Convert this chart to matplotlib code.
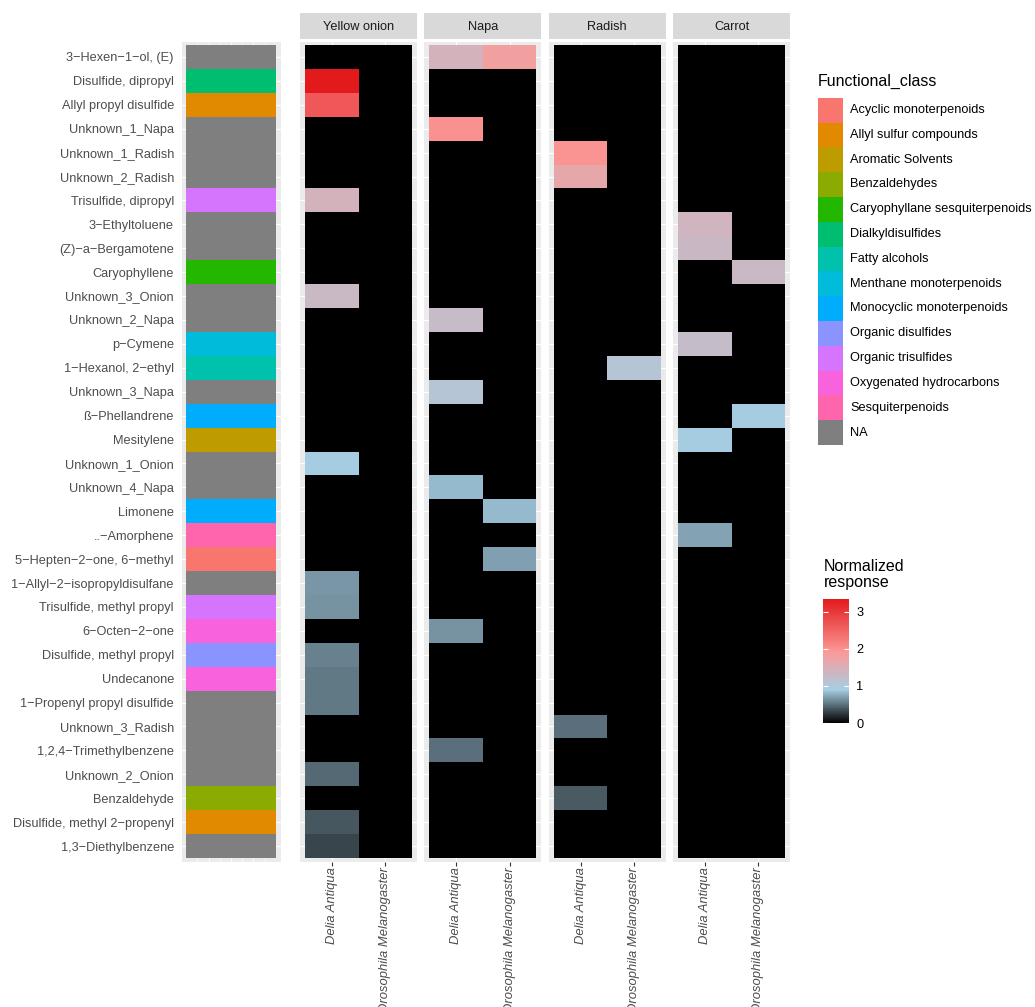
import numpy as np
import matplotlib
matplotlib.use("Agg")
import matplotlib.pyplot as plt
from matplotlib.colors import LinearSegmentedColormap, Normalize, ListedColormap
from matplotlib.cm import ScalarMappable
from matplotlib.patches import Rectangle

plt.rcParams['font.family'] = ['Liberation Sans', 'DejaVu Sans']

# ---------------- data ----------------
compounds = [
    "3−Hexen−1−ol, (E)", "Disulfide, dipropyl", "Allyl propyl disulfide",
    "Unknown_1_Napa", "Unknown_1_Radish", "Unknown_2_Radish",
    "Trisulfide, dipropyl", "3−Ethyltoluene", "(Z)−a−Bergamotene",
    "Caryophyllene", "Unknown_3_Onion", "Unknown_2_Napa", "p−Cymene",
    "1−Hexanol, 2−ethyl", "Unknown_3_Napa", "ß−Phellandrene", "Mesitylene",
    "Unknown_1_Onion", "Unknown_4_Napa", "Limonene", "..−Amorphene",
    "5−Hepten−2−one, 6−methyl", "1−Allyl−2−isopropyldisulfane",
    "Trisulfide, methyl propyl", "6−Octen−2−one", "Disulfide, methyl propyl",
    "Undecanone", "1−Propenyl propyl disulfide", "Unknown_3_Radish",
    "1,2,4−Trimethylbenzene", "Unknown_2_Onion", "Benzaldehyde",
    "Disulfide, methyl 2−propenyl", "1,3−Diethylbenzene",
]

functional_class = [
    "NA", "Dialkyldisulfides", "Allyl sulfur compounds",
    "NA", "NA", "NA",
    "Organic trisulfides", "NA", "NA",
    "Caryophyllane sesquiterpenoids", "NA", "NA", "Menthane monoterpenoids",
    "Fatty alcohols", "NA", "Monocyclic monoterpenoids", "Aromatic Solvents",
    "NA", "NA", "Monocyclic monoterpenoids", "Sesquiterpenoids",
    "Acyclic monoterpenoids", "NA",
    "Organic trisulfides", "Oxygenated hydrocarbons", "Organic disulfides",
    "Oxygenated hydrocarbons", "NA", "NA",
    "NA", "NA", "Benzaldehydes",
    "Allyl sulfur compounds", "NA",
]

class_levels = [
    "Acyclic monoterpenoids", "Allyl sulfur compounds", "Aromatic Solvents",
    "Benzaldehydes", "Caryophyllane sesquiterpenoids", "Dialkyldisulfides",
    "Fatty alcohols", "Menthane monoterpenoids", "Monocyclic monoterpenoids",
    "Organic disulfides", "Organic trisulfides", "Oxygenated hydrocarbons",
    "Sesquiterpenoids", "NA",
]
class_colors = [
    "#F8766D", "#E18A00", "#BE9C00", "#8CAB00", "#24B700", "#00BE70",
    "#00C1AB", "#00BBDA", "#00ACFC", "#8B93FF", "#D575FE", "#F962DD",
    "#FF65AC", "#7F7F7F",
]

facets = ["Yellow onion", "Napa", "Radish", "Carrot"]
species = ["Delia Antiqua", "Drosophila Melanogaster"]

onion_delia = [0, 3.35, 2.65, 0, 0, 0, 1.45, 0, 0, 0,
               1.3, 0, 0, 0, 0, 0, 0, 0.9, 0, 0,
               0, 0, 0.66, 0.65, 0, 0.57, 0.53, 0.53, 0, 0,
               0.47, 0, 0.385, 0.31]
onion_dros = [0, 0, 0, 0, 0, 0, 0, 0, 0, 0,
              0, 0, 0, 0, 0, 0, 0, 0, 0, 0,
              0, 0, 0, 0, 0, 0, 0, 0, 0, 0,
              0, 0, 0, 0]
napa_delia = [1.45, 0, 0, 2.0, 0, 0, 0, 0, 0, 0,
              0, 1.27, 0, 0, 1.08, 0, 0, 0, 0.82, 0,
              0, 0, 0, 0, 0.65, 0, 0, 0, 0, 0.49,
              0, 0, 0, 0]
napa_dros = [1.8, 0, 0, 0, 0, 0, 0, 0, 0, 0,
             0, 0, 0, 0, 0, 0, 0, 0, 0, 0.82,
             0, 0.70, 0, 0, 0, 0, 0, 0, 0, 0,
             0, 0, 0, 0]
radish_delia = [0, 0, 0, 0, 1.97, 1.65, 0, 0, 0, 0,
                0, 0, 0, 0, 0, 0, 0, 0, 0, 0,
                0, 0, 0, 0, 0, 0, 0, 0, 0.49, 0,
                0, 0.40, 0, 0]
radish_dros = [0, 0, 0, 0, 0, 0, 0, 0, 0, 0,
               0, 0, 0, 1.08, 0, 0, 0, 0, 0, 0,
               0, 0, 0, 0, 0, 0, 0, 0, 0, 0,
               0, 0, 0, 0]
carrot_delia = [0, 0, 0, 0, 0, 0, 0, 1.4, 1.32, 0,
                0, 0, 1.25, 0, 0, 0, 0.9, 0, 0, 0,
                0.71, 0, 0, 0, 0, 0, 0, 0, 0, 0,
                0, 0, 0, 0]
carrot_dros = [0, 0, 0, 0, 0, 0, 0, 0, 0, 1.3,
               0, 0, 0, 0, 0, 0.9, 0, 0, 0, 0,
               0, 0, 0, 0, 0, 0, 0, 0, 0, 0,
               0, 0, 0, 0]

facet_values = [
    (onion_delia, onion_dros),
    (napa_delia, napa_dros),
    (radish_delia, radish_dros),
    (carrot_delia, carrot_dros),
]

legend_ticks = [0, 1, 2, 3]
vmax = 3.35

# ---------------- styling ----------------
W, H = 1035, 1007
fig = plt.figure(figsize=(W / 100, H / 100), dpi=100)


def rect(x0, y0, x1, y1):
    return [x0 / W, 1 - y1 / H, (x1 - x0) / W, (y1 - y0) / H]


cmap = LinearSegmentedColormap.from_list(
    "resp",
    [(0.0, "#000000"), (0.9 / vmax, "#A6CEE3"), (1.9 / vmax, "#FB9A99"), (1.0, "#E31A1C")],
)
norm = Normalize(0, vmax)

PANEL_BG = "#EBEBEB"
AXIS_TXT = "#4D4D4D"
FS = 9.2
n = len(compounds)
y_top, y_bot = 41.7, 861.6
row_px = (858 - 45) / n
ylim = (n - 0.5 + (y_bot - 858) / row_px, -0.5 - (45 - y_top) / row_px)


def style_panel(ax):
    ax.set_facecolor(PANEL_BG)
    for s in ax.spines.values():
        s.set_visible(False)
    ax.set_axisbelow(True)


# left strip with functional classes
ax_s = fig.add_axes(rect(182, y_top, 281, y_bot))
style_panel(ax_s)
class_idx = np.array([class_levels.index(c) for c in functional_class]).reshape(-1, 1)
ax_s.pcolormesh([0, 1], np.arange(n + 1) - 0.5, class_idx,
                cmap=ListedColormap(class_colors), vmin=-0.5,
                vmax=len(class_levels) - 0.5, antialiased=False, linewidth=0)
ax_s.set_xlim(-4 / 90, 1 + 5 / 90)
ax_s.set_ylim(*ylim)
for xv in np.linspace(0, 1, 9)[1:-1]:
    ax_s.axvline(xv, color="white", lw=0.6 if xv in (0.25, 0.5, 0.75) else 0.4, zorder=0)
for yv in range(n):
    ax_s.axhline(yv, color="white", lw=0.8, zorder=0)
ax_s.set_yticks(range(n))
ax_s.set_yticklabels(compounds, fontsize=FS, color=AXIS_TXT)
ax_s.tick_params(axis="y", length=0, pad=5.8)
ax_s.set_xticks([])

# heatmap facets
for i, (fname, vals) in enumerate(zip(facets, facet_values)):
    x0 = 300 + i * 124.4
    ax = fig.add_axes(rect(x0, y_top, x0 + 117, y_bot))
    style_panel(ax)
    data = np.column_stack([np.array(vals[0]), np.array(vals[1])])
    ax.pcolormesh([-0.5, 0.5, 1.5], np.arange(n + 1) - 0.5, data,
                  cmap=cmap, norm=norm, antialiased=False, linewidth=0)
    m = 5 / 53.5
    ax.set_xlim(-0.5 - m, 1.5 + m)
    ax.set_ylim(*ylim)
    for yv in range(n):
        ax.axhline(yv, color="white", lw=0.8, zorder=0)
    for xv in (0, 1):
        ax.axvline(xv, color="white", lw=0.8, zorder=0)
    ax.set_yticks([])
    ax.set_xticks([0, 1])
    ax.set_xticklabels(species, rotation=90, fontsize=9.4, color=AXIS_TXT,
                       fontstyle="italic", va="top", ha="center")
    ax.tick_params(axis="x", length=2.75, width=0.8, color="#333333", pad=1.5)
    # strip header
    ax_h = fig.add_axes(rect(x0, 13, x0 + 117, 39))
    ax_h.set_facecolor("#D9D9D9")
    for s in ax_h.spines.values():
        s.set_visible(False)
    ax_h.set_xticks([])
    ax_h.set_yticks([])
    ax_h.text(0.5, 0.47, fname, ha="center", va="center", fontsize=FS,
              color="#1A1A1A", transform=ax_h.transAxes)

# functional class legend
ax_l = fig.add_axes([0, 0, 1, 1], facecolor="none")
ax_l.set_xlim(0, W)
ax_l.set_ylim(H, 0)
ax_l.axis("off")
ax_l.text(817.5, 81.5, "Functional_class", fontsize=11.5, va="center", ha="left", color="black")
key_h = 24.8
for k, (lab, col) in enumerate(zip(class_levels, class_colors)):
    yk = 97.7 + k * key_h
    ax_l.add_patch(Rectangle((818, yk), 25, key_h, facecolor=col, edgecolor="none"))
    ax_l.text(850, yk + key_h / 2, lab, fontsize=FS, va="center", ha="left", color="black")

ax_l.text(824, 559, "Normalized\nresponse", fontsize=11.5, va="top", ha="left",
          color="black", linespacing=1.05)

# colorbar
cax = fig.add_axes(rect(822.7, 599, 849.3, 723))
cb = fig.colorbar(ScalarMappable(norm=norm, cmap=cmap), cax=cax)
cb.outline.set_visible(False)
cb.set_ticks(legend_ticks)
cax.yaxis.set_ticks_position("both")
cax.tick_params(axis="y", direction="in", length=3.6, width=0.8, color="white",
                labelleft=False, labelright=True, labelsize=FS, labelcolor="black", pad=5)

fig.savefig("out.png", dpi=100)
